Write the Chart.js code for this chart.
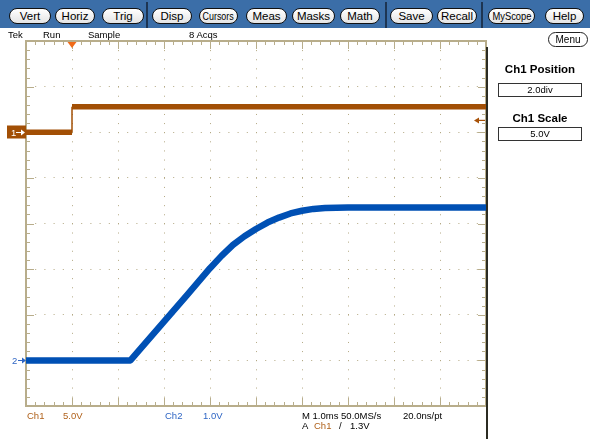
<!DOCTYPE html>
<html><head><meta charset="utf-8">
<script src="https://cdn.jsdelivr.net/npm/chart.js@4.4.1/dist/chart.umd.min.js"></script>
<style>
html,body{margin:0;padding:0;background:#fff;}
body{width:590px;height:439px;position:relative;overflow:hidden;font-family:"Liberation Sans",Arial,sans-serif;}
#scope{position:absolute;left:0;top:0;z-index:1;}
#bar{position:absolute;left:0;top:0;width:590px;height:28px;background:#3b6ea8;z-index:2;}
.btn{position:absolute;top:8px;height:16px;border:1.4px solid #111;border-radius:8px;background:linear-gradient(#ffffff,#e4e4e4);box-sizing:border-box;font-size:11.5px;color:#000;white-space:nowrap;display:flex;align-items:center;justify-content:center;overflow:hidden;}
.btn span{display:inline-block;transform-origin:50% 50%;flex-shrink:0;}
.sep{position:absolute;top:2px;width:2px;height:26px;background:#1d3553;}
.t{position:absolute;white-space:nowrap;font-size:9.5px;line-height:10px;color:#000;z-index:3;}
.c1{color:#b0621c;}
.c2{color:#2f66c4;}
.hd{position:absolute;white-space:nowrap;font-size:11.5px;font-weight:bold;line-height:12px;color:#000;width:100px;left:490px;text-align:center;z-index:3;}
.box{position:absolute;left:498px;width:84px;height:14px;border:1px solid #333;box-sizing:border-box;font-size:9.5px;line-height:12px;text-align:center;z-index:3;}
#menu{position:absolute;left:548px;top:32px;width:40px;height:15px;border:1.2px solid #222;border-radius:8px;box-sizing:border-box;font-size:10px;line-height:13px;text-align:center;z-index:3;}
#edge{position:absolute;left:486px;top:47px;width:2px;height:392px;background:#2b2b22;z-index:3;}
.mk{position:absolute;font-size:9.5px;line-height:10px;z-index:3;}
</style>
</head>
<body>
<canvas id="scope" width="590" height="439"></canvas>
<div id="bar">
  <div class="btn" style="left:9px;width:42px"><span>Vert</span></div>
  <div class="btn" style="left:55px;width:40px"><span>Horiz</span></div>
  <div class="btn" style="left:102px;width:42px"><span>Trig</span></div>
  <div class="sep" style="left:146px"></div>
  <div class="btn" style="left:152px;width:40px"><span>Disp</span></div>
  <div class="btn" style="left:199px;width:39px"><span>Cursors</span></div>
  <div class="btn" style="left:246px;width:41px"><span>Meas</span></div>
  <div class="btn" style="left:292px;width:43px"><span>Masks</span></div>
  <div class="btn" style="left:340px;width:40px"><span>Math</span></div>
  <div class="sep" style="left:385px"></div>
  <div class="btn" style="left:390px;width:43px"><span>Save</span></div>
  <div class="btn" style="left:437px;width:40px"><span>Recall</span></div>
  <div class="sep" style="left:481px"></div>
  <div class="btn" style="left:488px;width:47px"><span>MyScope</span></div>
  <div class="btn" style="left:545px;width:39px"><span>Help</span></div>
</div>

<div class="t" style="left:8px;top:30px">Tek</div>
<div class="t" style="left:43px;top:30px">Run</div>
<div class="t" style="left:88px;top:30px">Sample</div>
<div class="t" style="left:189px;top:30px">8 Acqs</div>

<div id="menu">Menu</div>
<div class="hd" style="top:63px">Ch1 Position</div>
<div class="box" style="top:83px">2.0div</div>
<div class="hd" style="top:112px">Ch1 Scale</div>
<div class="box" style="top:127px">5.0V</div>

<div id="edge"></div>

<div class="t c1" style="left:27px;top:411px">Ch1</div>
<div class="t c1" style="left:63px;top:411px">5.0V</div>
<div class="t c2" style="left:165px;top:411px">Ch2</div>
<div class="t c2" style="left:203px;top:411px">1.0V</div>
<div class="t" style="left:302px;top:411px">M 1.0ms 50.0MS/s</div>
<div class="t" style="left:403px;top:411px">20.0ns/pt</div>
<div class="t" style="left:302px;top:421px">A</div>
<div class="t c1" style="left:314px;top:421px">Ch1</div>
<div class="t" style="left:339px;top:421px">/</div>
<div class="t" style="left:350px;top:421px">1.3V</div>

<div class="mk" id="mk1" style="left:11px;color:#fff">1</div>
<div class="mk" id="mk2" style="left:12px;color:#2f66c4">2</div>

<script>
// ---- data (time in ms relative to trigger, values in volts) ----
const ch1Time  = [-1, 0, 0, 9];
const ch1Volts = [0, 0, 2.8, 2.8];
const ch2Time  = [-1, 1.27, 1.5, 2.0, 2.5, 3.0, 3.25, 3.5, 3.75, 4.0, 4.25, 4.5, 4.75, 5.0, 5.25, 5.5, 6.0, 9];
const ch2Volts = [0, 0, 0.27, 0.85, 1.43, 2.02, 2.29, 2.53, 2.72, 2.88, 3.02, 3.13, 3.22, 3.28, 3.32, 3.34, 3.35, 3.35];
const timeRange = [-1, 9];          // 10 divisions at 1.0 ms/div
const ch1Scale = 5.0, ch1Position = 2.0;   // V/div, div
const ch2Scale = 1.0, ch2Position = -3.0;
const trigTime = 0, trigLevel = 1.3;
const vDivs = 8;

const ch1Color = '#a24f05';
const ch2Color = '#0050b4';

function pts(xs, ys){ return xs.map((x,i)=>({x:x, y:ys[i]})); }

const dotColor = '#b3a883';
const rulerColor = '#b8ad8b';

function drawArrow(ctx, x1, x2, y, color){
  ctx.save();
  ctx.strokeStyle = color; ctx.fillStyle = color; ctx.lineWidth = 1;
  ctx.beginPath(); ctx.moveTo(x1, y+0.5); ctx.lineTo(x2-3, y+0.5); ctx.stroke();
  ctx.beginPath(); ctx.moveTo(x2, y+0.5); ctx.lineTo(x2-4, y-2.5); ctx.lineTo(x2-4, y+3.5); ctx.closePath(); ctx.fill();
  ctx.restore();
}

const scopePlugin = {
  id: 'scope',
  beforeDatasetsDraw(chart){
    const {ctx, chartArea:a, scales} = chart;
    const x = scales.x, y = scales.y;
    ctx.save();
    ctx.strokeStyle = rulerColor;
    ctx.lineWidth = 2;
    ctx.strokeRect(a.left, a.top, a.right - a.left, a.bottom - a.top);
    ctx.lineWidth = 1;
    ctx.beginPath();
    const xs = (timeRange[1]-timeRange[0]) * 5;
    for (let i = 0; i <= xs; i++){
      const v = timeRange[0] + i/5;
      const px = Math.round(x.getPixelForValue(v)) + 0.5;
      const len = (i % 5 === 0) ? 8 : 4;
      ctx.moveTo(px, a.top); ctx.lineTo(px, a.top + len);
      ctx.moveTo(px, a.bottom); ctx.lineTo(px, a.bottom - len);
    }
    for (let i = 0; i <= vDivs*5; i++){
      const v = y.min + i/5 * ch2Scale;
      const py = Math.round(y.getPixelForValue(v)) + 0.5;
      const len = (i % 5 === 0) ? 8 : 4;
      ctx.moveTo(a.left, py); ctx.lineTo(a.left + len, py);
      ctx.moveTo(a.right, py); ctx.lineTo(a.right - len, py);
    }
    ctx.stroke();
    ctx.restore();
  },
  afterDraw(chart){
    const {ctx, chartArea:a, scales} = chart;
    const x = scales.x, y = scales.y, y1 = scales.y1;
    ctx.save();
    // trigger position marker
    const tx = x.getPixelForValue(trigTime);
    ctx.fillStyle = '#f06a18';
    ctx.beginPath(); ctx.moveTo(tx-4.5, a.top+1); ctx.lineTo(tx+4.5, a.top+1); ctx.lineTo(tx, a.top+7); ctx.closePath(); ctx.fill();
    // trigger level marker
    const ty = y1.getPixelForValue(trigLevel);
    ctx.strokeStyle = '#a85208'; ctx.fillStyle = '#a85208'; ctx.lineWidth = 1.2;
    ctx.beginPath(); ctx.moveTo(a.right-1, ty); ctx.lineTo(a.right-8, ty); ctx.stroke();
    ctx.beginPath(); ctx.moveTo(a.right-12, ty); ctx.lineTo(a.right-7, ty-3); ctx.lineTo(a.right-7, ty+3); ctx.closePath(); ctx.fill();
    // channel 1 marker
    const c1 = y1.getPixelForValue(0);
    ctx.fillStyle = ch1Color;
    ctx.fillRect(7, Math.round(c1) - 6.5, a.left - 7, 13);
    drawArrow(ctx, 16, a.left - 1, Math.round(c1), '#ffffff');
    // channel 2 marker
    const c2 = y.getPixelForValue(0);
    drawArrow(ctx, 18, a.left, Math.round(c2), '#2f66c4');
    ctx.restore();
  }
};

const chart = new Chart(document.getElementById('scope'), {
  type: 'line',
  data: {
    datasets: [
      { label: 'Ch2', data: pts(ch2Time, ch2Volts), yAxisID: 'y', borderColor: ch2Color, borderWidth: 6.5,
        pointRadius: 0, tension: 0, borderJoinStyle: 'round', fill: false },
      { label: 'Ch1', data: pts(ch1Time, ch1Volts), yAxisID: 'y1', borderColor: ch1Color, borderWidth: 5.5,
        pointRadius: 0, tension: 0, borderJoinStyle: 'miter', fill: false,
        segment: { borderWidth: c => (c.p0.parsed.x === c.p1.parsed.x ? 1.5 : undefined) } }
    ]
  },
  options: {
    responsive: false,
    animation: false,
    events: [],
    layout: { padding: { left: 26, top: 41, right: 104, bottom: 33 } },
    plugins: { legend: { display: false }, tooltip: { enabled: false }, title: { display: false } },
    scales: {
      x: {
        type: 'linear', min: timeRange[0], max: timeRange[1],
        ticks: { display: false, stepSize: 1 },
        grid: { drawTicks: false, lineWidth: 1,
                color: c => (c.index === 0 || c.index === 10) ? 'rgba(0,0,0,0)' : dotColor },
        border: { display: false, dash: [1, 8.12] }
      },
      y: {
        type: 'linear', position: 'left',
        min: -(vDivs/2 + ch2Position) * ch2Scale, max: (vDivs/2 - ch2Position) * ch2Scale,
        ticks: { display: false, stepSize: ch2Scale },
        grid: { drawTicks: false, lineWidth: 1,
                color: c => (c.index === 0 || c.index === vDivs) ? 'rgba(0,0,0,0)' : dotColor },
        border: { display: false, dash: [1, 8.2] }
      },
      y1: {
        type: 'linear', display: false,
        min: -(vDivs/2 + ch1Position) * ch1Scale, max: (vDivs/2 - ch1Position) * ch1Scale
      }
    }
  },
  plugins: [scopePlugin]
});

// place channel digit labels from the scales
const p1 = chart.scales.y1.getPixelForValue(0);
const p2 = chart.scales.y.getPixelForValue(0);
document.getElementById('mk1').style.top = (Math.round(p1) - 4.5) + 'px';
document.getElementById('mk2').style.top = (Math.round(p2) - 4.5) + 'px';

// fit toolbar labels into their buttons
document.querySelectorAll('.btn').forEach(b => {
  const s = b.querySelector('span');
  const avail = b.clientWidth - 6;
  if (s.offsetWidth > avail) s.style.transform = 'scaleX(' + (avail / s.offsetWidth).toFixed(3) + ')';
});
</script>
</body></html>
